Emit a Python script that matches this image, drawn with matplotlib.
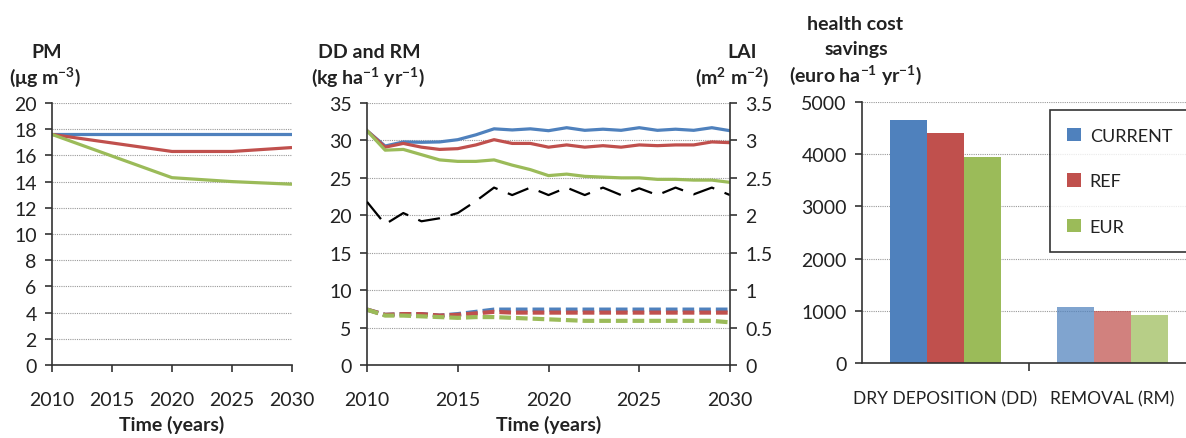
import matplotlib
matplotlib.use("Agg")
import matplotlib.pyplot as plt
import numpy as np
from matplotlib.ticker import FormatStrFormatter

plt.rcParams['font.family'] = ['Lato', 'DejaVu Sans']
plt.rcParams['mathtext.default'] = 'regular'

# ---------------- data ----------------
scenarios = ["CURRENT", "REF", "EUR"]
colors = {"CURRENT": "#4F81BD", "REF": "#C0504D", "EUR": "#9BBB59"}

pm_years = [2010, 2020, 2025, 2030]
pm_current = [17.6, 17.6, 17.6, 17.6]
pm_ref = [17.6, 16.3, 16.3, 16.6]
pm_eur = [17.6, 14.3, 14.0, 13.8]

years = list(range(2010, 2031))
dd_current = [31.3, 29.25, 29.8, 29.75, 29.8, 30.1, 30.75, 31.55, 31.4, 31.55, 31.3,
              31.7, 31.35, 31.5, 31.35, 31.7, 31.35, 31.5, 31.35, 31.7, 31.3]
dd_ref = [31.3, 29.1, 29.6, 29.1, 28.8, 28.9, 29.4, 30.1, 29.6, 29.6, 29.1,
          29.4, 29.1, 29.3, 29.1, 29.4, 29.3, 29.4, 29.4, 29.8, 29.7]
dd_eur = [31.3, 28.7, 28.8, 28.1, 27.4, 27.2, 27.2, 27.4, 26.7, 26.1, 25.3,
          25.5, 25.2, 25.1, 25.0, 25.0, 24.8, 24.8, 24.7, 24.7, 24.4]
rm_current = [7.4, 6.7, 6.8, 6.8, 6.6, 6.8, 7.1, 7.4, 7.4, 7.4, 7.4,
              7.4, 7.4, 7.4, 7.4, 7.4, 7.4, 7.4, 7.4, 7.4, 7.4]
rm_ref = [7.4, 6.7, 6.8, 6.8, 6.6, 6.7, 6.9, 7.1, 7.0, 7.0, 7.0,
          7.0, 7.0, 7.0, 7.0, 7.0, 7.0, 7.0, 7.0, 7.0, 7.0]
rm_eur = [7.4, 6.6, 6.6, 6.5, 6.4, 6.3, 6.4, 6.4, 6.3, 6.2, 6.1,
          6.0, 5.9, 5.9, 5.9, 5.9, 5.9, 5.9, 5.9, 5.9, 5.7]
lai = [2.18, 1.88, 2.03, 1.92, 1.96, 2.03, 2.19, 2.37, 2.27, 2.37, 2.27,
       2.37, 2.27, 2.37, 2.27, 2.36, 2.27, 2.37, 2.28, 2.37, 2.27]

bar_categories = ["DRY DEPOSITION (DD)", "REMOVAL (RM)"]
bar_current = [4660, 1080]
bar_ref = [4410, 1000]
bar_eur = [3940, 910]

# ---------------- figure ----------------
W, H = 1186, 439
fig = plt.figure(figsize=(W / 100, H / 100), dpi=100)

def px_axes(l, r, t, b):
    return fig.add_axes([l / W, (H - b) / H, (r - l) / W, (b - t) / H])

FS = 14
TXT = "#222222"

def style(ax):
    ax.spines['top'].set_visible(False)
    ax.spines['right'].set_visible(False)
    for s in ax.spines.values():
        s.set_color("#333333")
        s.set_linewidth(1.2)
    ax.tick_params(axis='both', direction='out', length=5, width=1.2,
                   color="#333333", labelsize=FS, labelcolor=TXT)
    ax.tick_params(axis='y', pad=6)
    ax.tick_params(axis='x', pad=14)
    ax.yaxis.grid(True, linestyle=(0, (1, 1)), color="#999999", linewidth=0.8)
    ax.set_axisbelow(True)

# ---- panel 1: PM ----
ax1 = px_axes(52, 292, 104, 366)
style(ax1)
ax1.plot(pm_years, pm_current, color=colors["CURRENT"], lw=2.3, solid_capstyle='butt')
ax1.plot(pm_years, pm_ref, color=colors["REF"], lw=2.3, solid_capstyle='butt')
ax1.plot(pm_years, pm_eur, color=colors["EUR"], lw=2.3, solid_capstyle='butt')
ax1.set_xlim(2010, 2030)
ax1.set_ylim(0, 20)
ax1.set_xticks([2010, 2015, 2020, 2025, 2030])
ax1.set_yticks(range(0, 21, 2))
ax1.set_xlabel("Time (years)", fontsize=FS, fontweight='bold', color=TXT, labelpad=5)

# ---- panel 2: DD, RM, LAI ----
ax2 = px_axes(367, 730, 104, 366)
style(ax2)
for vals, key in [(dd_current, "CURRENT"), (dd_ref, "REF"), (dd_eur, "EUR")]:
    ax2.plot(years, vals, color=colors[key], lw=2.3)
for vals, key in [(rm_current, "CURRENT"), (rm_ref, "REF"), (rm_eur, "EUR")]:
    ax2.plot(years, vals, color=colors[key], lw=3, dashes=(2.8, 1.2))
ax2.set_xlim(2010, 2030)
ax2.set_ylim(0, 35)
ax2.set_xticks([2010, 2015, 2020, 2025, 2030])
ax2.set_yticks(range(0, 36, 5))
ax2.set_xlabel("Time (years)", fontsize=FS, fontweight='bold', color=TXT, labelpad=5)

ax2r = ax2.twinx()
ax2r.plot(years, lai, color="black", lw=1.6, dashes=(10, 5))
ax2r.set_ylim(0, 3.5)
ax2r.set_yticks(np.arange(0, 3.51, 0.5))
ax2r.yaxis.set_major_formatter(FormatStrFormatter('%g'))
for s in ['top', 'left', 'bottom']:
    ax2r.spines[s].set_visible(False)
ax2r.spines['right'].set_color("#333333")
ax2r.spines['right'].set_linewidth(1.2)
ax2r.tick_params(axis='y', direction='out', length=5, width=1.2, color="#333333",
                 labelsize=FS, labelcolor=TXT, pad=6)

# ---- panel 3: bars ----
ax3 = px_axes(862, 1196, 103, 364)
style(ax3)
ax3.tick_params(axis='x', pad=20)
bw = 0.222
xc = np.arange(len(bar_categories))
alphas = [1.0, 0.72]
for i, (vals, key) in enumerate([(bar_current, "CURRENT"), (bar_ref, "REF"), (bar_eur, "EUR")]):
    for j, v in enumerate(vals):
        ax3.bar(xc[j] + (i - 1) * bw, v, width=bw, color=colors[key], alpha=alphas[j],
                label=key if j == 0 else None, zorder=2)
ax3.set_xlim(-0.5, 1.5)
ax3.set_ylim(0, 5000)
ax3.set_yticks(range(0, 5001, 1000))
ax3.set_xticks(xc)
ax3.set_xticklabels(bar_categories, fontsize=12.5)
ax3.tick_params(axis='x', which='major', length=0)
ax3.set_xticks([0.5], minor=True)
ax3.tick_params(axis='x', which='minor', length=6, width=1.2, color="#333333")
leg = ax3.legend(loc='upper left', bbox_to_anchor=(0.563, 0.968), frameon=True,
                 fancybox=False, edgecolor='black', fontsize=FS - 1,
                 handlelength=0.75, handleheight=0.75, labelspacing=1.65,
                 borderpad=0.95, handletextpad=0.5, borderaxespad=0)
leg.get_frame().set_linewidth(1.2)
for t in leg.get_texts():
    t.set_color(TXT)

# ---- axis titles ----
def ftext(x, y, s, ha='center'):
    fig.text(x / W, 1 - y / H, s, ha=ha, va='center', fontsize=FS,
             fontweight='bold', color=TXT)

ftext(47, 53, "PM")
ftext(45, 77, "(μg m$^{-3}$)")
ftext(369, 53, "DD and RM")
ftext(368, 77, "(kg ha$^{-1}$ yr$^{-1}$)")
ftext(742, 53, "LAI")
ftext(732, 77, "(m$^{2}$ m$^{-2}$)")
ftext(855, 25, "health cost")
ftext(856, 50, "savings")
ftext(855, 75, "(euro ha$^{-1}$ yr$^{-1}$)")

fig.savefig("out.png", dpi=100)
